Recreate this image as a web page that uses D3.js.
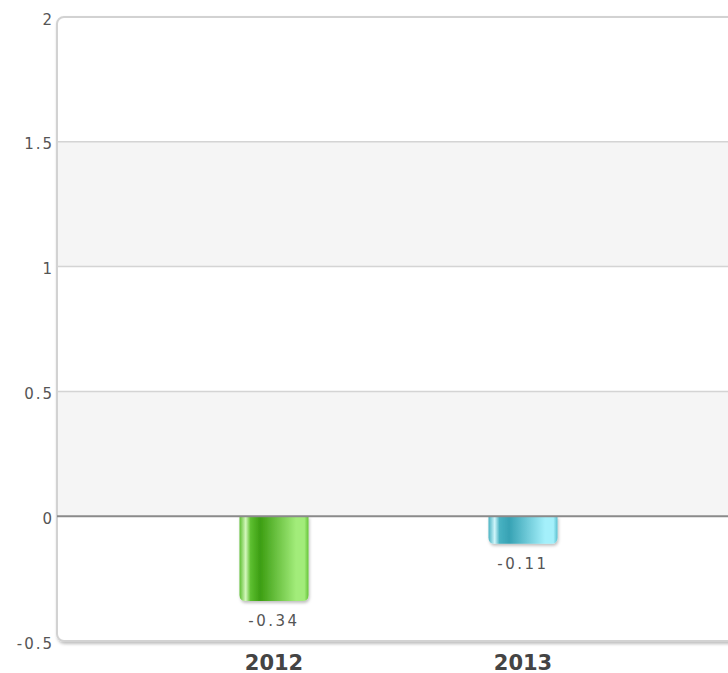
<!DOCTYPE html>
<html>
<head>
<meta charset="utf-8">
<script src="https://cdn.jsdelivr.net/npm/d3@7"></script>
<style>
  body { margin: 0; background: #fff; }
  text { font-family: "DejaVu Sans", Verdana, sans-serif; }
</style>
</head>
<body>
<div class="viz"></div>
<script>
var categories = ["2012", "2013"];
var values = [-0.34, -0.11];
var yTicks = [-0.5, 0, 0.5, 1, 1.5, 2];
var yTickLabels = ["-0.5", "0", "0.5", "1", "1.5", "2"];
var barColors = [
    {edge: "#5dbf30", hi: "#d4f7bc", dark: "#3c9e12", light: "#a2ec7a", rim: "#66c43a"},
    {edge: "#48b2c2", hi: "#d0f6fb", dark: "#37a2b4", light: "#a4f0fb", rim: "#5cc0cf"}
];

var width = 728, height = 673;
var plotLeft = 57, plotTop = 17, plotBottom = 641;

var svg = d3.select(".viz").append("svg")
    .attr("width", width)
    .attr("height", height);

var y = d3.scaleLinear().domain([-0.5, 2]).range([plotBottom, plotTop]);
var x = d3.scalePoint().domain(categories).range([274, 523]);
var barW = 69;

var defs = svg.append("defs");
var shadow = defs.append("filter").attr("id", "shadow")
    .attr("x", "-10%").attr("y", "-10%").attr("width", "130%").attr("height", "130%");
shadow.append("feDropShadow")
    .attr("dx", 1).attr("dy", 2).attr("stdDeviation", 1.5)
    .attr("flood-color", "#000").attr("flood-opacity", 0.25);

barColors.forEach(function(c, i) {
    var g = defs.append("linearGradient").attr("id", "bar" + i)
        .attr("x1", "0%").attr("x2", "100%").attr("y1", "0%").attr("y2", "0%");
    g.append("stop").attr("offset", "0%").attr("stop-color", c.edge);
    g.append("stop").attr("offset", "9%").attr("stop-color", c.hi);
    g.append("stop").attr("offset", "16%").attr("stop-color", c.edge);
    g.append("stop").attr("offset", "30%").attr("stop-color", c.dark);
    g.append("stop").attr("offset", "82%").attr("stop-color", c.light);
    g.append("stop").attr("offset", "94%").attr("stop-color", c.light);
    g.append("stop").attr("offset", "100%").attr("stop-color", c.rim);
});

// plot frame
svg.append("rect")
    .attr("x", plotLeft).attr("y", plotTop)
    .attr("width", width + 40 - plotLeft).attr("height", plotBottom - plotTop)
    .attr("rx", 7)
    .attr("fill", "#fff")
    .attr("stroke", "#d2d2d2")
    .attr("stroke-width", 2)
    .attr("filter", "url(#shadow)");

// alternating bands
var bands = [[0, 0.5], [1, 1.5]];
svg.selectAll(".band").data(bands).enter().append("rect")
    .attr("class", "band")
    .attr("x", plotLeft + 1).attr("width", width - plotLeft)
    .attr("y", function(d) { return y(d[1]); })
    .attr("height", function(d) { return y(d[0]) - y(d[1]); })
    .attr("fill", "#f5f5f5");

// grid lines
svg.selectAll(".grid").data(yTicks.filter(function(t) { return t > -0.5 && t < 2 && t !== 0; }))
    .enter().append("line")
    .attr("x1", plotLeft + 1).attr("x2", width)
    .attr("y1", function(d) { return y(d); })
    .attr("y2", function(d) { return y(d); })
    .attr("stroke", "#d4d4d4").attr("stroke-width", 1.5);

// y labels
svg.selectAll(".ylab").data(yTicks).enter().append("text")
    .attr("x", 54)
    .attr("y", function(d) { return y(d) + 7.5; })
    .attr("text-anchor", "end")
    .attr("font-size", 15)
    .attr("letter-spacing", 2)
    .attr("fill", "#555")
    .text(function(d, i) { return yTickLabels[i]; });

// bars
var bar = svg.selectAll(".bar").data(values).enter().append("g").attr("class", "bar");
bar.append("path")
    .attr("filter", "url(#shadow)")
    .attr("fill", function(d, i) { return "url(#bar" + i + ")"; })
    .attr("d", function(d, i) {
        var x0 = x(categories[i]) - barW / 2, x1 = x0 + barW;
        var y0 = y(0), y1 = y(d), r = 6;
        return "M" + x0 + "," + y0 + "L" + x1 + "," + y0 +
            "L" + x1 + "," + (y1 - r) + "Q" + x1 + "," + y1 + " " + (x1 - r) + "," + y1 +
            "L" + (x0 + r) + "," + y1 + "Q" + x0 + "," + y1 + " " + x0 + "," + (y1 - r) + "Z";
    });
bar.append("text")
    .attr("x", function(d, i) { return x(categories[i]); })
    .attr("y", function(d) { return y(d) + 25; })
    .attr("text-anchor", "middle")
    .attr("font-size", 15)
    .attr("letter-spacing", 2.5)
    .attr("fill", "#555")
    .text(function(d) { return d.toFixed(2); });

// zero line
svg.append("line")
    .attr("x1", plotLeft).attr("x2", width)
    .attr("y1", y(0)).attr("y2", y(0))
    .attr("stroke", "#8a8a8a").attr("stroke-width", 2);

// category labels
svg.selectAll(".xlab").data(categories).enter().append("text")
    .attr("x", function(d) { return x(d); })
    .attr("y", 670)
    .attr("text-anchor", "middle")
    .attr("font-size", 21)
    .attr("font-weight", "bold")
    .attr("fill", "#444")
    .text(function(d) { return d; });
</script>
</body>
</html>
